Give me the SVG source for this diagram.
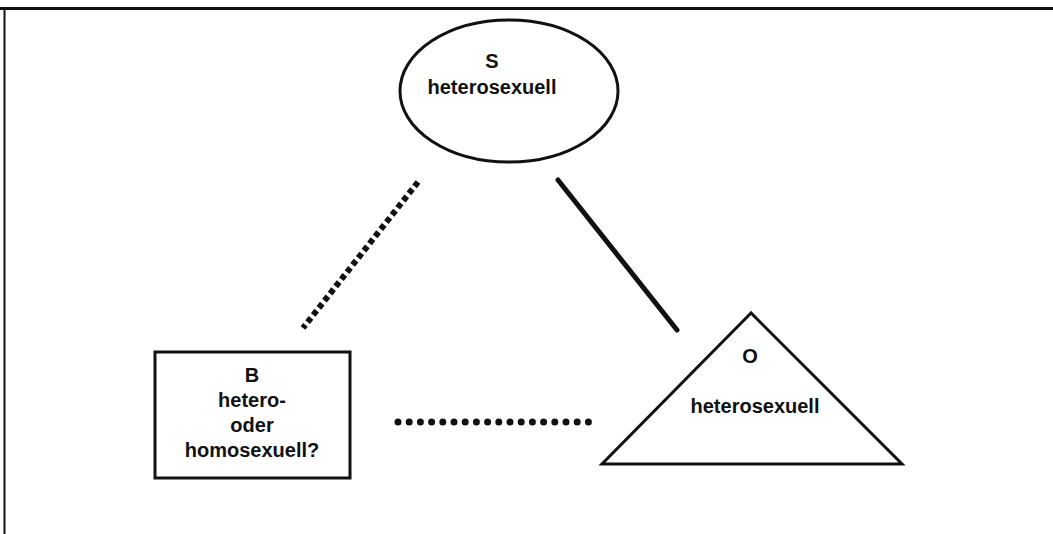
<svg xmlns="http://www.w3.org/2000/svg" width="1053" height="534" viewBox="0 0 1053 534">
<style>
.shape{fill:#fff;stroke:#111;stroke-width:3}
.t{font-family:"Liberation Sans",Arial,sans-serif;font-weight:bold;font-size:20px;fill:#111;text-anchor:middle}
.frame{stroke:#111;fill:none}
</style>
<rect width="1053" height="534" fill="#fff"/>
<g id="frame">
<line class="frame" x1="0" y1="8.5" x2="1053" y2="8.5" stroke-width="3"/>
<line class="frame" x1="4.5" y1="8" x2="4.5" y2="534" stroke-width="2"/>
</g>
<g id="connectors" stroke="#111" fill="none">
<line x1="418" y1="182" x2="303" y2="328" stroke-width="6" stroke-dasharray="5.5 3.6"/>
<line x1="558" y1="180" x2="677" y2="330" stroke-width="5" stroke-linecap="round"/>
<line x1="398" y1="422" x2="589" y2="422" stroke-width="7" stroke-linecap="round" stroke-dasharray="0 11.2"/>
</g>
<g id="node-S">
<ellipse class="shape" cx="509" cy="91" rx="109" ry="71"/>
<text class="t" x="492" y="68">S</text>
<text class="t" x="492" y="94">heterosexuell</text>
</g>
<g id="node-B">
<rect class="shape" x="155" y="352" width="195" height="126"/>
<text class="t" x="252" y="382">B</text>
<text class="t" x="252" y="407">hetero-</text>
<text class="t" x="252" y="432">oder</text>
<text class="t" x="252" y="457">homosexuell?</text>
</g>
<g id="node-O">
<polygon class="shape" points="751,313 602,464 902,464" stroke-linejoin="miter"/>
<text class="t" x="750" y="363">O</text>
<text class="t" x="755" y="413">heterosexuell</text>
</g>
</svg>
